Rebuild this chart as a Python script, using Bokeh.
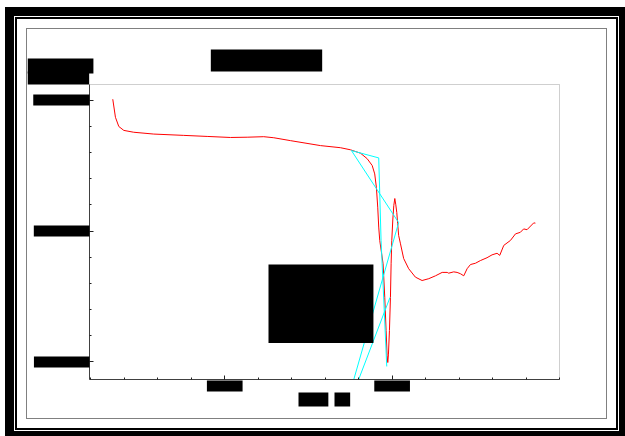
from bokeh.plotting import figure
from bokeh.models import Range1d, FixedTicker, Label, LinearAxis, BoxAnnotation
from bokeh.embed import file_html
from bokeh.resources import INLINE

# ---- data ----
red_x = [33.1, 34.7, 36.7, 39.7, 45.6, 57.6, 75.5, 89.5, 103.4, 113.4, 123.3, 129.3,
         139.2, 157.2, 169.1, 175.1, 181.1, 185.1, 188.1, 189.6, 190.6, 191.4, 192.0,
         192.6, 194.6, 195.6, 196.4, 197.0, 197.4, 197.8, 198.4, 199.0, 199.4, 199.8,
         200.4, 201.0, 201.6, 202.2, 202.8, 203.3, 203.9, 205.0, 206.9, 209.9, 213.9,
         217.9, 221.9, 225.9, 229.9, 232.9, 233.8, 236.8, 238.8, 240.8, 242.8, 244.8,
         246.8, 249.8, 252.7, 256.7, 259.7, 262.7, 264.3, 266.7, 270.7, 273.7, 276.6,
         278.6, 280.6, 284.6, 285.6]
red_y = [1003, 934, 899, 884, 877, 870, 865, 861, 857, 858, 860, 856,
         845, 826, 818, 810, 797, 776, 750, 718, 667, 591, 515,
         464, 375, 247, 120, 25, -2, 30, 120, 247, 375, 464,
         542, 597, 624, 600, 570, 529, 483, 451, 395, 356, 324,
         311, 318, 329, 342, 342, 339, 344, 342, 337, 329, 356,
         372, 377, 387, 398, 409, 415, 407, 445, 464, 489, 495,
         508, 505, 531, 530]

tan1_x = [175.7, 192.0, 193.4, 196.8]
tan1_y = [807, 779, 464, -17]
tan2_x = [175.7, 203.9, 177.1]
tan2_y = [807, 532, -66.8]
tan3_x = [198.7, 180.0]
tan3_y = [246, -66.8]

x_major = [100, 200]
x_minor = list(range(20, 301, 20))
y_major = [0, 500, 1000]
y_minor = list(range(0, 1001, 100))
x_tick_labels = ["100", "200"]
y_tick_labels = ["0", "500", "1000"]
title_text = "Potential Curve"
x_title = ["Time", "(s)"]
y_title = ["Potential", "(mV)"]
legend_text = "Potential\nTangent 1\nTangent 2"

# inner plotting area (axes box)
x0, x1 = 19.2, 300.0
y0, y1 = -66.8, 1059.2

# figure geometry (px)
W, H = 579, 389
left_px, right_px, top_px, bottom_px = 62, 47, 55, 39
xs = (x1 - x0) / (W - left_px - right_px)
ys = (y1 - y0) / (H - top_px - bottom_px)

p = figure(width=W, height=H, output_backend="svg", toolbar_location=None,
           x_range=Range1d(x0 - left_px * xs, x1 + right_px * xs),
           y_range=Range1d(y0 - bottom_px * ys, y1 + top_px * ys),
           x_axis_type=None, y_axis_type=None,
           min_border=0, min_border_left=0, min_border_right=0,
           min_border_top=0, min_border_bottom=0)
p.margin = (29, 0, 0, 27)
p.styles = {"box-shadow": "0 0 0 1px #808080, 0 0 0 10px #ffffff, 0 0 0 12px #000000, "
                          "0 0 0 13px #ffffff, 0 0 0 22px #000000"}
p.background_fill_color = "white"
p.border_fill_color = "white"
p.outline_line_color = None
p.xgrid.visible = False
p.ygrid.visible = False

# inner box outline
p.add_layout(BoxAnnotation(left=x0, right=x1, bottom=y0, top=y1, fill_color=None,
                           line_color="#606060", line_width=1, level="underlay"))

xaxis = LinearAxis(fixed_location=y0, bounds=(x0, x1),
                   ticker=FixedTicker(ticks=x_major, minor_ticks=x_minor))
yaxis = LinearAxis(fixed_location=x0, bounds=(y0, y1),
                   ticker=FixedTicker(ticks=y_major, minor_ticks=y_minor))
for ax in (xaxis, yaxis):
    ax.axis_line_color = "#404040"
    ax.major_tick_in = 4
    ax.major_tick_out = 0
    ax.minor_tick_in = 2
    ax.minor_tick_out = 0
    ax.major_tick_line_color = "#202020"
    ax.minor_tick_line_color = "#202020"
    ax.major_label_text_color = None
    ax.major_label_text_font_size = "0px"
    ax.major_label_standoff = 0
p.add_layout(xaxis, "below")
p.add_layout(yaxis, "left")

p.line(red_x, red_y, line_color="#ff0000", line_width=1)
p.line(tan1_x, tan1_y, line_color="#00ffff", line_width=1)
p.line(tan2_x, tan2_y, line_color="#00ffff", line_width=1)
p.line(tan3_x, tan3_y, line_color="#00ffff", line_width=1)


def box_label(text, x, y, anchor, xo, yo, pad, size="10px", style="normal"):
    lab = Label(x=x, y=y, x_offset=xo, y_offset=yo, text=text, anchor=anchor,
                text_font="Liberation Sans", text_font_size=size, text_font_style=style,
                text_color="black", background_fill_color="black", border_line_color=None,
                padding=dict(left=pad[0], right=pad[1], top=pad[2], bottom=pad[3]))
    p.add_layout(lab)


# tick labels
y_pads = [(25, 25), (20, 19), (17, 17)]
for v, t, (pl, pr) in zip(y_major, y_tick_labels, y_pads):
    box_label(t, x0, v, "center_right", 0, 0, (pl, pr, 1, 2))
for v, t in zip(x_major, x_tick_labels):
    box_label(t, v, y0, "top_center", 0, -1, (10, 9, 1, 2))

# title, axis titles, legend
box_label(title_text, x0, y1, "bottom_center", 177, 13, (8, 8, 3, 4), size="13px", style="bold")
box_label(y_title[0], x0, y1, "top_left", -62, 26, (14, 13, 1, 3))
box_label(y_title[1], x0, y1, "top_left", -62, 13, (20, 20, 1, 1))
box_label(x_title[0], x0, y0, "top_left", 209, -13, (4, 4, 1, 2))
box_label(x_title[1], x0, y0, "top_left", 245, -13, (2, 2, 1, 2))
box_label(legend_text, x0, y1, "top_left", 179, -180, (29, 32, 21, 20))

open("out.html", "w").write(file_html(p, INLINE))
